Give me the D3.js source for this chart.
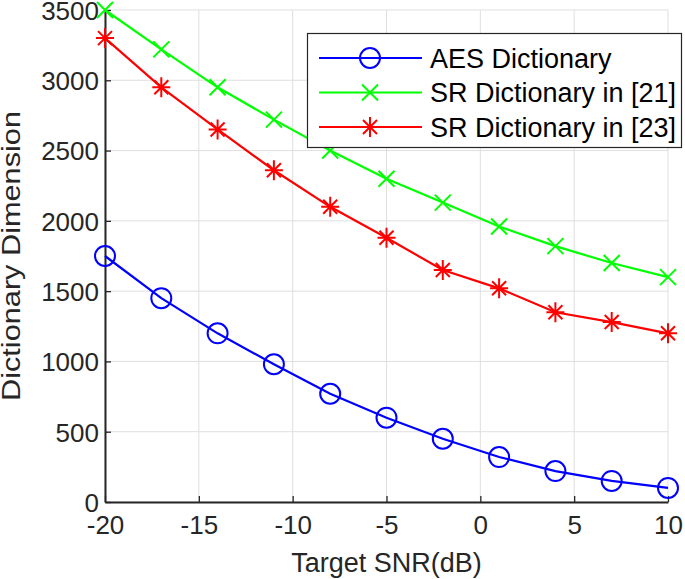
<!DOCTYPE html>
<html><head><meta charset="utf-8">
<script src="https://cdn.jsdelivr.net/npm/d3@7"></script>
<style>body{margin:0;background:#fff}svg{display:block}text{font-family:"Liberation Sans",Arial,sans-serif}</style>
</head><body>
<svg id="c" width="685" height="579"></svg>
<script>
const snr = [-20,-17,-14,-11,-8,-5,-2,1,4,7,10];
const aes = [1750,1450,1200,980,770,600,450,320,220,150,100];
const sr21 = [3500,3220,2950,2720,2500,2300,2130,1960,1820,1700,1600];
const sr23 = [3300,2950,2650,2360,2100,1880,1650,1520,1350,1280,1200];
const xTicks = [-20,-15,-10,-5,0,5,10];
const yTicks = [0,500,1000,1500,2000,2500,3000,3500];
const seriesNames = ["AES Dictionary","SR Dictionary in [21]","SR Dictionary in [23]"];
const seriesColors = ["#0000ff","#00ff00","#ff0000"];
const seriesMarkers = ["circle","x","star"];

const svg = d3.select("#c");
const L=105,R=668,T=10,B=502;
const FS="26px";
const x = d3.scaleLinear().domain([-20,10]).range([L,R]);
const y = d3.scaleLinear().domain([0,3500]).range([B,T]);
const axisCol="#262626";

// grid
const g = svg.append("g");
g.selectAll(".gx").data(xTicks).enter().append("line")
 .attr("x1",d=>x(d)).attr("x2",d=>x(d)).attr("y1",T).attr("y2",B)
 .attr("stroke","#dfdfdf").attr("stroke-width",1);
g.selectAll(".gy").data(yTicks).enter().append("line")
 .attr("y1",d=>y(d)).attr("y2",d=>y(d)).attr("x1",L).attr("x2",R)
 .attr("stroke","#dfdfdf").attr("stroke-width",1);

// axes
const fmt = d=>String(d);
const xa = svg.append("g").attr("transform",`translate(0,${B})`)
 .call(d3.axisBottom(x).tickValues(xTicks).tickFormat(fmt).tickSizeInner(-6).tickSizeOuter(0).tickPadding(14));
const ya = svg.append("g").attr("transform",`translate(${L},0)`)
 .call(d3.axisLeft(y).tickValues(yTicks).tickFormat(fmt).tickSizeInner(-6).tickSizeOuter(0).tickPadding(6));
[xa,ya].forEach(a=>{
 a.select(".domain").attr("stroke",axisCol).attr("stroke-width",2);
 a.selectAll(".tick line").attr("stroke",axisCol).attr("stroke-width",1.3);
 a.selectAll("text").attr("fill",axisCol).style("font-size",FS).style("font-family","'Liberation Sans',Arial,sans-serif");
});
xa.selectAll("text").attr("dy","0.71em");
ya.selectAll("text").attr("dy","0.36em");

svg.append("text").attr("x",(L+R)/2).attr("y",572).attr("text-anchor","middle")
 .attr("fill",axisCol).style("font-size","27px").text("Target SNR(dB)");
svg.append("text").attr("transform",`translate(20,${(T+B)/2}) rotate(-90)`).attr("text-anchor","middle")
 .attr("fill",axisCol).style("font-size","26px").attr("textLength",290).attr("lengthAdjust","spacingAndGlyphs")
 .text("Dictionary Dimension");

function marker(sel,type,col){
 if(type==="circle"){
  sel.append("circle").attr("r",10).attr("fill","none").attr("stroke",col).attr("stroke-width",2);
 } else if(type==="x"){
  sel.append("path").attr("d","M-8,-8L8,8M-8,8L8,-8").attr("stroke",col).attr("stroke-width",2);
 } else {
  sel.append("path").attr("d","M-9,0L9,0M0,-10L0,10M-7,-7L7,7M-7,7L7,-7").attr("stroke",col).attr("stroke-width",2);
 }
}

const data=[aes,sr21,sr23];
const line = d3.line().x((d,i)=>x(snr[i])).y(d=>y(d));
data.forEach((vals,k)=>{
 svg.append("path").datum(vals).attr("d",line).attr("fill","none")
  .attr("stroke",seriesColors[k]).attr("stroke-width",2.2);
 vals.forEach((v,i)=>{
  const m=svg.append("g").attr("transform",`translate(${x(snr[i])},${y(v)})`);
  marker(m,seriesMarkers[k],seriesColors[k]);
 });
});

// legend
const lg = svg.append("g");
lg.append("rect").attr("x",307.5).attr("y",33.5).attr("width",374).attr("height",114)
 .attr("fill","#fff").attr("stroke",axisCol).attr("stroke-width",1.2);
seriesNames.forEach((n,k)=>{
 const yy = 58 + k*34.5;
 lg.append("line").attr("x1",319).attr("x2",422).attr("y1",yy).attr("y2",yy)
  .attr("stroke",seriesColors[k]).attr("stroke-width",2.2);
 const m=lg.append("g").attr("transform",`translate(370,${yy})`);
 marker(m,seriesMarkers[k],seriesColors[k]);
 lg.append("text").attr("x",430).attr("y",yy).attr("dy","0.36em").attr("fill","#000")
  .style("font-size","27px").text(n);
});
</script>
</body></html>
